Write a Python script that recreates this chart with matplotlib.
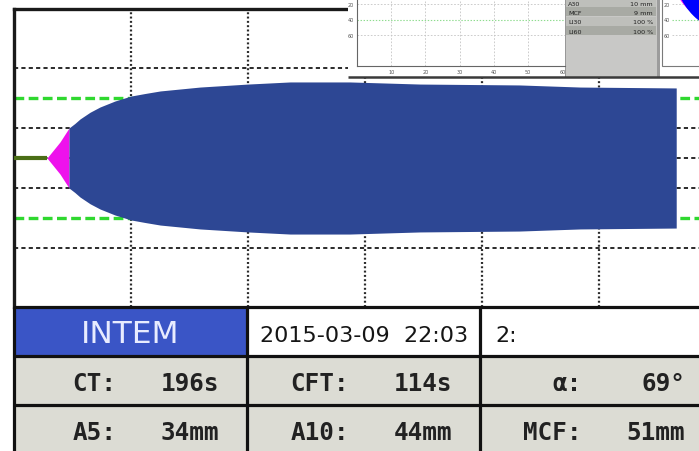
import matplotlib
matplotlib.use("Agg")
import matplotlib.pyplot as plt
from matplotlib.patches import Rectangle, Circle

plt.rcParams['lines.scale_dashes'] = False

# ---- trace data (time in min, amplitude in mm) ----
ct_min = 2.82
pink_time = [2.82, 3.93, 4.70]
pink_amp = [0, 10.7, 20]
clot_time = [4.70, 5.2, 5.64, 6.5, 7.35, 8.63, 10.0, 11.2, 12.5, 15.9,
             20.0, 23.6, 28.7, 34.7, 43.2, 48.4, 56.6]
clot_amp = [20, 23, 26, 30.5, 34, 38, 41.3, 43, 44.7, 47.3,
            49.3, 50.7, 50.7, 49.3, 48.7, 47.3, 46.7]

grid_time = [10, 20, 30, 40, 50]
grid_amp = [-30, -10, 0, 10, 30]
ref_amp = [-20, 20]

# ---- result table ----
test_name = 'INTEM'
run_stamp = '2015-03-09  22:03'
channel = '2:'
param_labels = [['CT:', 'CFT:', 'α:'], ['A5:', 'A10:', 'MCF:']]
param_values = [['196s', '114s', '69°'], ['34mm', '44mm', '51mm']]

# ---- overlaid small screen ----
panel_labels = ['A30', 'MCF', 'LI30', 'LI60']
panel_values = ['10 mm', '9 mm', '100 %', '100 %']
mini_xticks = [10, 20, 30, 40, 50, 60]
mini_yticks = [20, 40, 60]

W, H = 699, 452
fig = plt.figure(figsize=(6.99, 4.52), dpi=100)


def box(x0, y0, x1, y1):
    return [x0 / W, 1 - y1 / H, (x1 - x0) / W, (y1 - y0) / H]


# main trace
ax = fig.add_axes(box(14, 10, 720, 307.5))
ax.set_xlim(0, (720 - 14) / 11.7)
ax.set_ylim(-(307.5 - 159) / 3, (159 - 10) / 3)
ax.set_xticks([])
ax.set_yticks([])
for s in ['right', 'bottom']:
    ax.spines[s].set_visible(False)
for s in ['left', 'top']:
    ax.spines[s].set_linewidth(2.4)
    ax.spines[s].set_color('#1a1a1a')

for t in grid_time:
    ax.axvline(t, color='#2a2a2a', lw=1.6, dashes=(1.4, 1.7), zorder=1)
for a in grid_amp:
    ax.axhline(a, color='#2a2a2a', lw=1.4, dashes=(3.0, 2.3), zorder=1)
for a in ref_amp:
    ax.axhline(a, color='#2fd82f', lw=2.4, dashes=(7.0, 3.2), zorder=2)

ax.plot([0, ct_min], [0, 0], color='#4a6e16', lw=3, solid_capstyle='butt', zorder=3)
ax.fill_between(pink_time, [-a / 2 for a in pink_amp], [a / 2 for a in pink_amp],
                color='#ee12ec', lw=0, zorder=3)
ax.fill_between(clot_time, [-a / 2 for a in clot_amp], [a / 2 for a in clot_amp],
                color='#2d4794', lw=0, zorder=4)

# pixel overlay for table and the pasted screen
ov = fig.add_axes([0, 0, 1, 1])
ov.set_xlim(0, W)
ov.set_ylim(H, 0)
ov.axis('off')
ov.patch.set_alpha(0)

cols = [14, 247, 480, 713]
rows = [307.5, 356.5, 405.5, 460]
for c in range(3):
    fc = '#3a55c6' if c == 0 else 'white'
    ov.add_patch(Rectangle((cols[c], rows[0]), cols[c + 1] - cols[c], rows[1] - rows[0], fc=fc, ec='none'))
for r in (1, 2):
    ov.add_patch(Rectangle((cols[0], rows[r]), cols[3] - cols[0], rows[r + 1] - rows[r], fc='#dcdcd4', ec='none'))
ov.hlines(rows[:3], 12.5, 713, color='#111111', lw=2.3)
ov.vlines(cols[:3], rows[0], rows[3], color='#111111', lw=2.3)

ov.text((cols[0] + cols[1]) / 2, 343, test_name, ha='center', va='baseline',
        color='#e8ecff', fontsize=22.5, family='DejaVu Sans')
ov.text(260, 342, run_stamp, ha='left', va='baseline', color='#151515',
        fontsize=16, family='DejaVu Sans')
ov.text(495, 342, channel, ha='left', va='baseline', color='#151515',
        fontsize=16, family='DejaVu Sans')
for r, base in enumerate([391, 440]):
    for c in range(3):
        ov.text(cols[c] + 102, base, param_labels[r][c], ha='right', va='baseline',
                family='DejaVu Sans Mono', fontsize=17.5, fontweight='bold', color='#222222')
        ov.text(cols[c] + 205, base, param_values[r][c], ha='right', va='baseline',
                family='DejaVu Sans Mono', fontsize=17.5, fontweight='bold', color='#222222')

# pasted screen in the top right
ov.add_patch(Rectangle((348, -2), 360, 80, fc='white', ec='none'))
ov.hlines(78, 348, 699, color='#3a3a3a', lw=1.8)
ov.add_patch(Rectangle((565, -2), 92, 80, fc='#c8c8c6', ec='#8a8a8a', lw=0.6))
ov.add_patch(Rectangle((657, -2), 3, 80, fc='#9c9c9c', ec='none'))
row_tops = [-1.0, 8.4, 17.8, 27.2]
for i, (lab, val) in enumerate(zip(panel_labels, panel_values)):
    fc = '#a8aaa4' if i % 2 else '#bebfbb'
    ov.add_patch(Rectangle((566, row_tops[i]), 90, 9.0, fc=fc, ec='none'))
    ov.text(568, row_tops[i] + 5, lab, ha='left', va='center', fontsize=4.6, color='#202020')
    ov.text(653, row_tops[i] + 5, val, ha='right', va='center', fontsize=4.6, color='#202020')
ov.add_patch(Rectangle((662, -5), 60, 72, fc='white', ec='#7a7a7a', lw=0.8))

m1 = fig.add_axes(box(357, -10.5, 565, 67))
m1.set_xlim(0, 60.8)
m1.set_ylim(100, 0)
m1.patch.set_visible(False)
for s in ['top', 'right']:
    m1.spines[s].set_visible(False)
for s in ['left', 'bottom']:
    m1.spines[s].set_color('#666666')
    m1.spines[s].set_linewidth(0.8)
for t in mini_xticks[:-1]:
    m1.axvline(t, color='#c4c4c4', lw=0.6, dashes=(1.2, 1.2))
for v in mini_yticks:
    if v == 40:
        m1.axhline(v, color='#8fdc8f', lw=0.8, dashes=(1.0, 1.2))
    else:
        m1.axhline(v, color='#c4c4c4', lw=0.6, dashes=(1.2, 1.2))
m1.set_xticks(mini_xticks)
m1.set_yticks(mini_yticks)
m1.tick_params(length=0, labelsize=3.5, labelcolor='#555555', pad=2)

m2 = fig.add_axes(box(672, -10.5, 760, 67))
m2.set_xlim(0, 60)
m2.set_ylim(100, 0)
m2.patch.set_visible(False)
for s in m2.spines.values():
    s.set_visible(False)
for v in mini_yticks:
    if v == 40:
        m2.axhline(v, color='#8fdc8f', lw=0.8, dashes=(1.0, 1.2))
    else:
        m2.axhline(v, color='#c4c4c4', lw=0.6, dashes=(1.2, 1.2))
m2.set_xticks([])
m2.set_yticks(mini_yticks)
m2.tick_params(length=0, labelsize=3.5, labelcolor='#555555', pad=1.5)
m2.add_patch(Circle((735, -36), 66, transform=ov.transData, fc='#ff10ff', ec='none', zorder=3))
m2.add_patch(Circle((740, -30), 66, transform=ov.transData, fc='#0000ff', ec='none', zorder=4))

fig.savefig('out.png', dpi=100)
